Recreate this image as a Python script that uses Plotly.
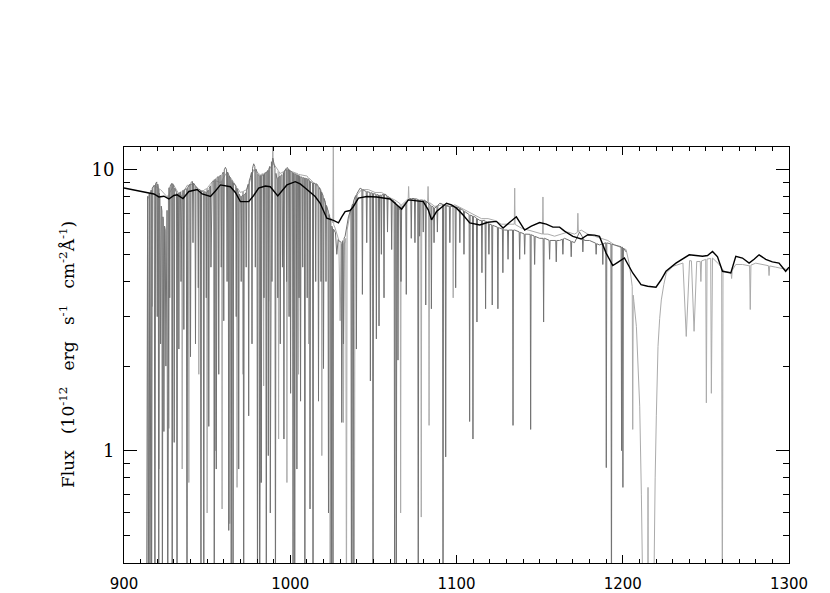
import numpy as np
import plotly.graph_objects as go

# ---------------- data ----------------
# smooth model spectrum (black)
model_wl = [900, 905, 910, 914, 918, 921, 924, 927, 930, 932, 935.5, 939, 944, 947, 952, 955, 958, 964,
            967, 970, 975, 978, 981, 985, 988, 992.5, 995, 998, 1003, 1006, 1009, 1012, 1015, 1018, 1022,
            1026, 1029, 1031, 1033, 1036, 1038, 1041, 1046, 1052, 1056, 1060, 1064, 1067, 1071, 1076, 1080,
            1083, 1085, 1088, 1094, 1097, 1100, 1104, 1108, 1114, 1119, 1124, 1128, 1132, 1136, 1141, 1145,
            1150, 1154, 1158, 1162, 1165, 1168, 1170, 1175, 1179, 1183, 1186, 1190, 1194, 1197, 1201, 1206,
            1211, 1215, 1220, 1223, 1226, 1232, 1236, 1240, 1244, 1248, 1251, 1254, 1257, 1260, 1265, 1268,
            1272, 1276, 1279, 1282, 1286, 1290, 1294, 1298, 1300]
model_flux = [8.61, 8.5, 8.4, 8.3, 8.2, 8.0, 8.05, 7.87, 8.1, 8.14, 7.9, 8.37, 8.5, 8.2, 8.03, 8.4, 8.83, 8.7,
              8.3, 7.7, 7.7, 8.1, 8.6, 8.75, 8.7, 8.07, 8.4, 8.83, 9.07, 8.9, 8.61, 8.3, 8.03, 7.6, 6.72,
              6.6, 6.47, 6.8, 7.1, 7.16, 7.4, 7.93, 8.03, 8.0, 7.95, 7.87, 7.5, 7.24, 7.81, 7.75, 7.7,
              7.2, 6.63, 7.1, 7.6, 7.5, 7.3, 6.9, 6.47, 6.36, 6.5, 6.55, 6.2, 6.5, 6.8, 6.1, 6.3,
              6.49, 6.4, 6.25, 6.25, 6.05, 5.87, 5.79, 5.67, 5.87, 5.85, 5.79, 5.05, 4.56, 4.68, 4.85, 4.29,
              3.9, 3.85, 3.82, 4.05, 4.35, 4.65, 4.8, 4.98, 4.95, 4.92, 4.95, 5.12, 4.9, 4.35, 4.29, 4.92,
              4.85, 4.65, 4.8, 4.98, 4.8, 4.7, 4.65, 4.35, 4.5]

# observed spectrum 1 (dark grey): continuum level
dark_wl = [914, 917, 920, 923, 925, 927, 929, 932, 935, 938, 941, 944, 947, 950, 953, 956, 959, 961, 964,
           967, 970, 973, 976, 978, 981, 984, 987, 989.5, 992, 995, 998, 1001, 1004, 1007, 1010, 1013, 1016,
           1019, 1022, 1025, 1027, 1029, 1031, 1033, 1035, 1037, 1039, 1042, 1045, 1048, 1051, 1054, 1057,
           1060, 1063, 1066, 1069, 1072, 1075, 1078, 1081, 1084, 1087, 1090, 1093, 1096, 1099, 1102, 1105,
           1108, 1111, 1114, 1117, 1120, 1123, 1126, 1129, 1132, 1135, 1138, 1141, 1144, 1147, 1150, 1153,
           1156, 1159, 1162, 1165, 1168, 1171, 1174, 1177, 1180, 1183, 1186, 1190, 1195, 1200, 1202]
dark_flux = [8.0, 8.6, 9.1, 7.0, 6.0, 8.6, 9.0, 8.2, 8.4, 8.6, 9.1, 8.6, 8.4, 8.3, 9.0, 9.4, 9.6, 10.2, 9.3,
             8.8, 8.0, 8.2, 9.4, 10.5, 9.5, 9.6, 10.0, 11.0, 9.3, 9.6, 10.2, 9.8, 9.6, 9.4, 9.3, 9.0, 8.9,
             8.3, 7.4, 6.3, 6.0, 5.6, 5.5, 5.8, 6.8, 7.4, 8.0, 8.6, 8.4, 8.3, 8.2, 8.1, 8.2,
             7.9, 7.7, 7.2, 7.6, 7.9, 7.9, 7.8, 7.8, 7.5, 7.3, 7.6, 7.5, 7.4, 7.4, 7.3, 7.1,
             6.9, 6.8, 6.6, 6.6, 6.4, 6.3, 6.2, 6.1, 6.1, 6.1, 6.0, 5.9, 5.9, 5.8, 5.7, 5.7,
             5.6, 5.6, 5.6, 5.7, 5.6, 5.5, 6.0, 5.6, 5.6, 5.5, 5.4, 5.5, 5.4, 5.3, 5.1]

# dark grey absorption lines: centre, extreme flux, half width
dark_line_wl = [913.6, 914.6, 915.6, 916.6, 918.6, 920.0, 920.9, 922.0, 923.1, 924.0, 925.2, 926.3, 927.5,
                929.0, 930.2, 931.9, 933.0, 934.3, 936.0, 937.9, 940.0, 941.5, 943.0, 944.7, 946.3, 948.0,
                949.5, 951.0, 952.3, 954.3, 955.5, 957.0, 958.5, 960.0, 962.0, 963.0, 964.5, 965.6, 967.5,
                969.0, 970.5, 972.0, 973.5, 975.0, 977.0, 979.0, 980.3, 981.6, 982.6, 984.2, 985.6, 986.8,
                988.0, 989.0, 991.1, 992.5, 994.0, 995.3, 996.2, 997.8, 999.3, 1000.2, 1001.7, 1002.7,
                1004.0, 1005.3, 1006.2, 1007.5, 1008.8, 1010.2, 1011.9, 1013.7, 1015.3, 1017.0, 1018.5,
                1020.0, 1021.5, 1023.0, 1024.7, 1025.7, 1028.0, 1031.0, 1032.0, 1036.8, 1037.8, 1039.8,
                1043.4, 1046.0, 1048.2, 1049.8, 1051.8, 1053.4, 1054.8, 1056.4, 1058.5, 1061.0, 1062.8,
                1063.8, 1064.8, 1066.6, 1069.8, 1072.8, 1075.0, 1077.0, 1077.8, 1080.0, 1081.5, 1084.9,
                1086.5, 1088.5, 1091.9, 1093.5, 1096.0, 1099.5, 1102.0, 1104.5, 1107.9, 1109.9, 1112.3,
                1115.3, 1117.5, 1119.5, 1121.5, 1124.9, 1127.9, 1131.0, 1134.0, 1138.0, 1141.0, 1144.6,
                1147.0, 1152.4, 1156.0, 1160.0, 1164.0, 1169.0, 1176.0, 1184.0, 1188.0, 1190.1, 1193.2,
                1199.3, 1200.1]
dark_line_min = [0.2, 0.2, 0.2, 0.2, 0.2, 3.0, 0.2, 2.4, 0.2, 1.17, 2.0, 0.2, 3.5,
                 0.2, 1.07, 0.2, 2.3, 4.0, 2.7, 0.2, 2.16, 5.5, 2.4, 3.8, 0.2, 0.2,
                 3.5, 1.22, 4.5, 0.2, 0.86, 1.87, 4.5, 2.9, 4.0, 0.52, 0.2, 0.2, 3.0,
                 0.86, 4.0, 0.2, 4.5, 1.33, 2.4, 4.5, 0.2, 0.2, 0.77, 3.5, 0.2, 0.96,
                 0.6, 4.0, 0.2, 3.5, 2.4, 4.5, 1.1, 4.0, 3.0, 1.6, 0.2, 0.2,
                 0.86, 3.5, 1.5, 4.5, 0.2, 3.5, 0.62, 0.2, 4.0, 1.5, 4.0,
                 1.96, 4.0, 0.6, 0.2, 0.2, 5.0, 1.26, 2.4, 0.2, 0.2, 2.3,
                 3.6, 5.5, 1.77, 0.2, 2.5, 2.78, 5.0, 3.5, 6.0, 5.2, 0.2,
                 0.2, 2.1, 4.0, 3.6, 5.7, 5.5, 0.2, 5.8, 6.0, 3.3, 3.2,
                 5.5, 6.0, 0.2, 0.95, 5.5, 3.8, 5.5, 5.0, 1.27, 1.1, 2.87,
                 4.3, 3.2, 5.0, 3.3, 3.2, 4.3, 4.8, 1.23, 4.8, 5.0, 1.19,
                 4.6, 2.87, 4.8, 4.7, 5.0, 4.9, 5.1, 5.0, 4.6, 0.87, 0.2,
                 1.0, 0.74]
dark_line_hw = [0.4, 0.4, 0.4, 0.3, 0.4, 0.3, 0.3, 0.4, 0.3, 0.4, 0.4, 0.4, 0.3,
                0.3, 0.3, 0.3, 0.3, 0.3, 0.3, 0.4, 0.3, 0.3, 0.3, 0.3, 0.3, 0.3,
                0.3, 0.3, 0.3, 0.3, 0.3, 0.3, 0.3, 0.3, 0.3, 0.3, 0.3, 0.3, 0.3,
                0.3, 0.3, 0.3, 0.3, 0.3, 0.3, 0.3, 0.3, 0.3, 0.3, 0.3, 0.3, 0.3,
                0.3, 0.3, 0.3, 0.3, 0.3, 0.3, 0.3, 0.3, 0.3, 0.3, 0.3, 0.3,
                0.3, 0.3, 0.3, 0.3, 0.3, 0.3, 0.3, 0.3, 0.3, 0.3, 0.3,
                0.3, 0.3, 0.3, 0.3, 0.3, 0.8, 0.4, 0.4, 0.3, 0.3, 0.3,
                0.3, 0.3, 0.3, 0.3, 0.3, 0.3, 0.3, 0.3, 0.3, 0.3, 0.3,
                0.3, 0.3, 0.4, 0.3, 0.3, 0.3, 0.3, 0.3, 0.3, 0.3, 0.3,
                0.3, 0.3, 0.3, 0.3, 0.3, 0.3, 0.3, 0.3, 0.3, 0.3, 0.3,
                0.3, 0.3, 0.3, 0.3, 0.3, 0.3, 0.3, 0.3, 0.3, 0.3, 0.3,
                0.3, 0.3, 0.3, 0.3, 0.3, 0.3, 0.3, 0.3, 0.3, 0.3, 0.3,
                0.3, 0.3]

# observed spectrum 2 (light grey): continuum level
light_wl = [914, 918, 922, 926, 930, 934, 938, 942, 946, 950, 954, 958, 962, 966, 970, 974, 978, 982, 986,
            990, 994, 998, 1002, 1006, 1010, 1014, 1018, 1021, 1024, 1027, 1030, 1033, 1036, 1039, 1043,
            1047, 1051, 1055, 1059, 1063, 1067, 1071, 1075, 1079, 1083, 1087, 1091, 1095, 1099, 1103, 1107,
            1111, 1115, 1119, 1123, 1127, 1131, 1135, 1139, 1143, 1147, 1151, 1155, 1159, 1163, 1167, 1171,
            1175, 1179, 1183, 1187, 1191, 1195, 1199, 1202, 1204, 1205.2, 1206.7, 1208.2, 1209.3, 1210.2,
            1211.2, 1211.8, 1212.5, 1218.3, 1218.8, 1219.5, 1220.2, 1221.2, 1222.2, 1223.2, 1224.7, 1226.2,
            1230.2, 1234, 1240, 1246, 1250, 1254, 1258, 1261, 1265, 1268, 1272, 1276, 1280, 1284, 1288,
            1292, 1296, 1300]
light_flux = [7.8, 8.8, 8.5, 8.0, 8.8, 8.0, 8.8, 8.9, 8.3, 8.6, 9.2, 9.0, 9.8, 9.0, 8.3, 8.5, 10.0, 9.6, 9.8,
              10.5, 9.7, 10.0, 9.8, 9.6, 9.5, 9.0, 8.6, 7.6, 6.8, 6.2, 5.4, 5.5, 7.0, 8.0, 8.5,
              8.5, 8.3, 8.3, 8.0, 7.8, 7.5, 7.9, 7.8, 7.7, 7.7, 7.4, 7.5, 7.4, 7.5, 7.3, 7.1,
              6.9, 6.7, 6.7, 6.6, 6.4, 6.4, 6.4, 6.2, 6.1, 6.0, 5.9, 5.9, 5.8, 5.9, 6.0, 5.9,
              6.1, 5.9, 5.8, 5.7, 5.6, 5.4, 5.3, 5.2, 4.6, 4.06, 3.4, 2.77, 2.0, 1.44,
              0.7, 0.35, 0.2, 0.2, 0.4, 0.8, 1.33, 2.35, 2.95, 3.44, 3.9, 4.29,
              4.53, 4.6, 4.75, 4.7, 4.8, 4.85, 4.6, 4.35, 4.3, 4.6, 4.6, 4.55, 4.65, 4.6, 4.55,
              4.5, 4.45, 4.4]

# light grey lines / spikes: centre, extreme flux, half width
light_line_wl = [917.0, 921.0, 927.0, 935.0, 939.0, 945.0, 950.0, 955.0, 959.0, 963.6, 968.0, 971.6,
                 982.0, 984.0, 987.0, 989.5, 993.0, 998.0, 1005.0, 1011.0, 1019.0, 1024.0, 1025.9,
                 1030.0, 1032.0, 1033.8, 1038.5, 1066.4, 1071.2, 1078.8, 1082.9, 1083.5, 1098.0,
                 1135.0, 1152.0, 1173.0, 1206.0, 1215.2, 1238.2, 1242.9, 1247.0, 1250.3, 1253.3,
                 1259.9, 1265.5, 1276.7, 1288.0]
light_line_min = [3.26, 0.86, 1.2, 0.86, 0.77, 1.87, 0.6, 1.0, 0.62, 0.55, 0.74, 1.87,
                  0.77, 1.7, 3.4, 13.0, 1.1, 0.77, 1.87, 2.4, 0.96, 0.2, 14.0,
                  2.9, 1.26, 0.2, 0.2, 0.6, 8.72, 0.58, 8.72, 1.23, 3.5,
                  8.6, 8.0, 7.0, 1.19, 0.74, 2.55, 2.66, 4.0, 1.48, 1.6,
                  0.2, 4.1, 3.18, 4.2]
light_line_hw = [0.3, 0.3, 0.3, 0.3, 0.3, 0.3, 0.3, 0.3, 0.3, 0.3, 0.3, 0.3,
                 0.3, 0.3, 0.3, 0.25, 0.3, 0.3, 0.3, 0.3, 0.3, 0.3, 0.25,
                 0.8, 0.4, 0.4, 0.3, 0.3, 0.25, 0.3, 0.25, 0.3, 0.3,
                 0.25, 0.25, 0.3, 0.3, 0.15, 2.0, 1.6, 0.4, 0.4, 0.4,
                 0.4, 0.4, 0.4, 0.4]

x_ticks = [900, 1000, 1100, 1200, 1300]
y_ticks = [1, 10]
y_tick_text = ["1", "10"]
y_minor = [0.4, 0.5, 0.6, 0.7, 0.8, 0.9, 2, 3, 4, 5, 6, 7, 8, 9]
sp = "\u00a0\u00a0\u00a0"
y_title = ("Flux" + sp + "(10<sup>-12</sup>" + sp + "erg" + sp + "s<sup>-1</sup>"
           + sp + "cm<sup>-2</sup>Å<sup>-1</sup>)")


def spectrum(cwl, cfl, lwl, lval, lhw):
    cwl = np.asarray(cwl, float)
    cfl = np.asarray(cfl, float)
    pts = []
    for w, f in zip(cwl, cfl):
        inside = any(abs(w - c) < h for c, h in zip(lwl, lhw))
        if not inside:
            pts.append((w, f))
    for c, v, h in zip(lwl, lval, lhw):
        for w in (c - h, c + h):
            if cwl[0] <= w <= cwl[-1]:
                pts.append((w, float(np.interp(w, cwl, cfl))))
        pts.append((c, v))
    pts.sort(key=lambda p: p[0])
    return [p[0] for p in pts], [p[1] for p in pts]


lx, ly = spectrum(light_wl, light_flux, light_line_wl, light_line_min, light_line_hw)
dx, dy = spectrum(dark_wl, dark_flux, dark_line_wl, dark_line_min, dark_line_hw)

fig = go.Figure()
fig.add_trace(go.Scatter(x=lx, y=ly, mode="lines", line=dict(color="#ababab", width=1),
                         showlegend=False, hoverinfo="skip"))
fig.add_trace(go.Scatter(x=dx, y=dy, mode="lines", line=dict(color="#727272", width=1),
                         showlegend=False, hoverinfo="skip"))
fig.add_trace(go.Scatter(x=model_wl, y=model_flux, mode="lines", line=dict(color="black", width=1.4),
                         showlegend=False, hoverinfo="skip"))

fig.update_layout(
    width=830, height=593,
    margin=dict(l=124, r=41, t=147, b=30),
    paper_bgcolor="white", plot_bgcolor="white",
    showlegend=False,
)
fig.update_xaxes(
    range=[900, 1300], tickvals=x_ticks, ticks="inside", ticklen=8, tickwidth=1, tickcolor="black",
    showline=True, linecolor="black", linewidth=1, mirror="ticks", showgrid=False, zeroline=False,
    minor=dict(ticks="inside", dtick=10, tick0=900, ticklen=4, tickcolor="black", showgrid=False),
    tickfont=dict(family="DejaVu Sans", size=15, color="black"), ticklabelstandoff=7,
    automargin=False,
)
fig.update_yaxes(
    type="log", range=[-0.400, 1.081], tickvals=y_ticks, ticktext=y_tick_text,
    ticks="inside", ticklen=13, tickwidth=1, tickcolor="black",
    showline=True, linecolor="black", linewidth=1, mirror="ticks", showgrid=False, zeroline=False,
    minor=dict(ticks="inside", tickvals=y_minor, ticklen=6, tickcolor="black", showgrid=False),
    tickfont=dict(family="DejaVu Serif", size=18, color="black"), ticklabelstandoff=5,
    automargin=False,
)
fig.add_annotation(
    text=y_title,
    xref="paper", yref="paper", x=-0.0857, y=0.5, xanchor="center", yanchor="middle",
    textangle=-90, showarrow=False, font=dict(family="DejaVu Serif", size=17, color="black"),
)

fig.write_html("out.html", config={"displayModeBar": False},
               post_script="document.body.style.margin='0';")
